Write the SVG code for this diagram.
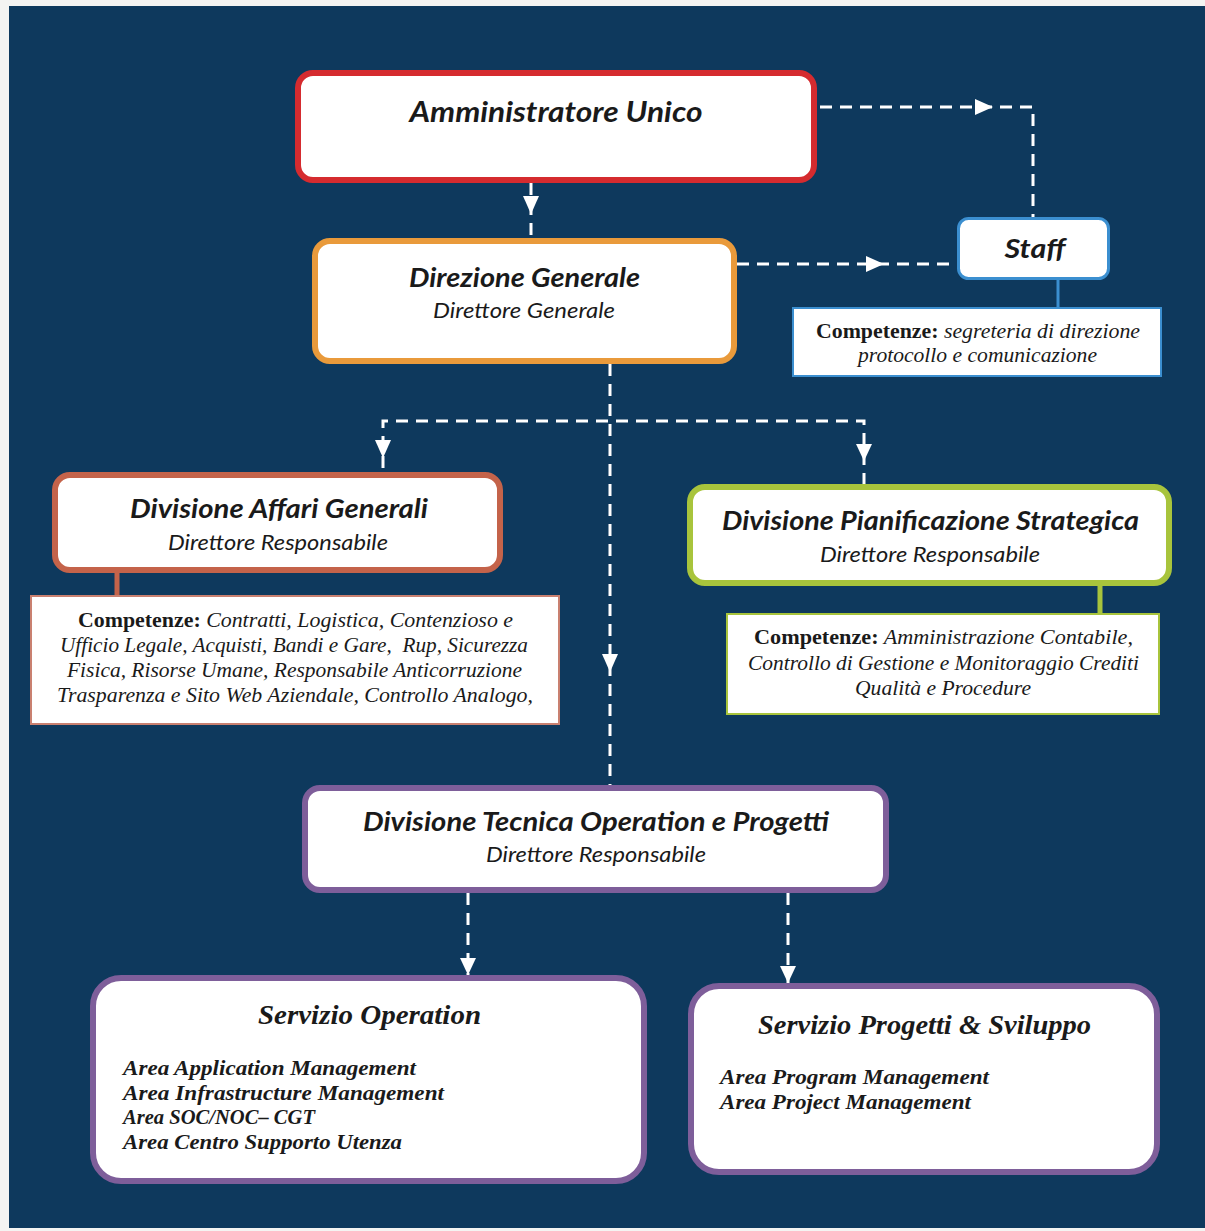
<svg xmlns="http://www.w3.org/2000/svg" width="1205" height="1231" viewBox="0 0 1205 1231">
<defs>
<style>
.bg{fill:#0e395d}
.node{fill:#ffffff;stroke-width:6}
.node.thin{stroke-width:3}
.comp{fill:#ffffff;stroke-width:2}
.t{font-family:Lato,"Liberation Sans",sans-serif;font-weight:bold;font-style:italic;fill:#1a1a1a;text-anchor:middle}
.s{font-family:Lato,"Liberation Sans",sans-serif;font-style:italic;fill:#1a1a1a;text-anchor:middle;font-size:21px}
.c{font-family:"Liberation Serif",serif;font-style:italic;fill:#1a1a1a;text-anchor:middle;font-size:20px}
.cb{font-style:normal;font-weight:bold}
.st{font-family:"Liberation Serif",serif;font-weight:bold;font-style:italic;fill:#1a1a1a;text-anchor:middle;font-size:27px}
.ar{font-family:"Liberation Serif",serif;font-weight:bold;font-style:italic;fill:#1a1a1a;font-size:22px}
.dash{fill:none;stroke:#ffffff;stroke-width:3;stroke-dasharray:12 8}
.ah{fill:#ffffff}
</style>
</defs>
<rect x="0" y="0" width="1205" height="1231" fill="#f4f4f2"/>
<rect class="bg" x="9" y="6" width="1196" height="1222"/>

<g id="connectors">
  <path class="dash" d="M820 107 H1033 V217"/>
  <polygon class="ah" points="975,99 975,115 993,107"/>
  <path class="dash" d="M531 183 V238"/>
  <polygon class="ah" points="523,196 539,196 531,214"/>
  <path class="dash" d="M737 264 H957"/>
  <polygon class="ah" points="866,256 866,272 884,264"/>
  <path class="dash" d="M610 364 V785"/>
  <polygon class="ah" points="602,654 618,654 610,672"/>
  <path class="dash" d="M383 468 V421 H864 V484"/>
  <polygon class="ah" points="375,440 391,440 383,458"/>
  <polygon class="ah" points="856,444 872,444 864,461"/>
  <path class="dash" d="M468 893 V975"/>
  <polygon class="ah" points="460,958 476,958 468,975"/>
  <path class="dash" d="M788 893 V983"/>
  <polygon class="ah" points="780,966 796,966 788,983"/>
  <line x1="1058" y1="280" x2="1058" y2="308" stroke="#3b8fd0" stroke-width="3"/>
  <line x1="117" y1="573" x2="117" y2="596" stroke="#c4634a" stroke-width="5"/>
  <line x1="1100" y1="586" x2="1100" y2="614" stroke="#a8c43c" stroke-width="5"/>
</g>

<g id="amministratore">
  <rect class="node" x="298" y="73" width="516" height="107" rx="15" stroke="#d52b2f"/>
  <text class="t" x="556" y="122" font-size="28" textLength="293" lengthAdjust="spacingAndGlyphs">Amministratore Unico</text>
</g>

<g id="direzione">
  <rect class="node" x="315" y="241" width="419" height="120" rx="15" stroke="#e99a3b"/>
  <text class="t" x="524.5" y="287" font-size="26" textLength="231" lengthAdjust="spacingAndGlyphs">Direzione Generale</text>
  <text class="s" x="524" y="318" textLength="182" lengthAdjust="spacingAndGlyphs">Direttore Generale</text>
</g>

<g id="staff">
  <rect class="node thin" x="958.5" y="218.5" width="150" height="60" rx="10" stroke="#3b8fd0"/>
  <text class="t" x="1035" y="258" font-size="26" textLength="61" lengthAdjust="spacingAndGlyphs">Staff</text>
</g>

<g id="staff-competenze">
  <rect class="comp" x="793" y="308" width="368" height="68" stroke="#3b8fd0"/>
  <text class="c" x="978" y="338" textLength="324" lengthAdjust="spacingAndGlyphs"><tspan class="cb">Competenze:</tspan> segreteria di direzione</text>
  <text class="c" x="977.5" y="362" textLength="239" lengthAdjust="spacingAndGlyphs">protocollo e comunicazione</text>
</g>

<g id="affari-generali">
  <rect class="node" x="55" y="475" width="445" height="95" rx="15" stroke="#c4634a"/>
  <text class="t" x="279" y="518" font-size="26" textLength="298" lengthAdjust="spacingAndGlyphs">Divisione Affari Generali</text>
  <text class="s" x="278" y="550" textLength="220" lengthAdjust="spacingAndGlyphs">Direttore Responsabile</text>
</g>

<g id="affari-generali-competenze">
  <rect class="comp" x="31" y="596" width="528" height="128" stroke="#c98070"/>
  <text class="c" x="295.5" y="627" textLength="435" lengthAdjust="spacingAndGlyphs"><tspan class="cb">Competenze:</tspan> Contratti, Logistica, Contenzioso e</text>
  <text class="c" x="294" y="652" textLength="468" lengthAdjust="spacingAndGlyphs" xml:space="preserve">Ufficio Legale, Acquisti, Bandi e Gare,  Rup, Sicurezza</text>
  <text class="c" x="294.5" y="677" textLength="455" lengthAdjust="spacingAndGlyphs">Fisica, Risorse Umane, Responsabile Anticorruzione</text>
  <text class="c" x="295" y="702" textLength="476" lengthAdjust="spacingAndGlyphs">Trasparenza e Sito Web Aziendale, Controllo Analogo,</text>
</g>

<g id="pianificazione">
  <rect class="node" x="690" y="487" width="479" height="96" rx="15" stroke="#a8c43c"/>
  <text class="t" x="930.5" y="530" font-size="26" textLength="417" lengthAdjust="spacingAndGlyphs">Divisione Pianificazione Strategica</text>
  <text class="s" x="930" y="562" textLength="220" lengthAdjust="spacingAndGlyphs">Direttore Responsabile</text>
</g>

<g id="pianificazione-competenze">
  <rect class="comp" x="727" y="614" width="432" height="100" stroke="#a8c43c"/>
  <text class="c" x="943.5" y="644" textLength="379" lengthAdjust="spacingAndGlyphs"><tspan class="cb">Competenze:</tspan> Amministrazione Contabile,</text>
  <text class="c" x="943.5" y="670" textLength="391" lengthAdjust="spacingAndGlyphs">Controllo di Gestione e Monitoraggio Crediti</text>
  <text class="c" x="943" y="695" textLength="176" lengthAdjust="spacingAndGlyphs">Qualità e Procedure</text>
</g>

<g id="tecnica">
  <rect class="node" x="305" y="788" width="581" height="102" rx="15" stroke="#7e5e9a"/>
  <text class="t" x="596" y="831" font-size="26" textLength="466" lengthAdjust="spacingAndGlyphs">Divisione Tecnica Operation e Progetti</text>
  <text class="s" x="596" y="862" textLength="220" lengthAdjust="spacingAndGlyphs">Direttore Responsabile</text>
</g>

<g id="servizio-operation">
  <rect class="node" x="93" y="978" width="551" height="203" rx="28" stroke="#7e5e9a"/>
  <text class="st" x="369.5" y="1024" textLength="223" lengthAdjust="spacingAndGlyphs">Servizio Operation</text>
  <text class="ar" x="123" y="1075" textLength="293" lengthAdjust="spacingAndGlyphs">Area Application Management</text>
  <text class="ar" x="123" y="1100" textLength="321" lengthAdjust="spacingAndGlyphs">Area Infrastructure Management</text>
  <text class="ar" x="123" y="1124" textLength="192" lengthAdjust="spacingAndGlyphs">Area SOC/NOC– CGT</text>
  <text class="ar" x="123" y="1149" textLength="279" lengthAdjust="spacingAndGlyphs">Area Centro Supporto Utenza</text>
</g>

<g id="servizio-progetti">
  <rect class="node" x="691" y="986" width="466" height="186" rx="28" stroke="#7e5e9a"/>
  <text class="st" x="924.5" y="1034" textLength="333" lengthAdjust="spacingAndGlyphs">Servizio Progetti &amp; Sviluppo</text>
  <text class="ar" x="720" y="1084" textLength="269" lengthAdjust="spacingAndGlyphs">Area Program Management</text>
  <text class="ar" x="720" y="1109" textLength="251" lengthAdjust="spacingAndGlyphs">Area Project Management</text>
</g>
</svg>
